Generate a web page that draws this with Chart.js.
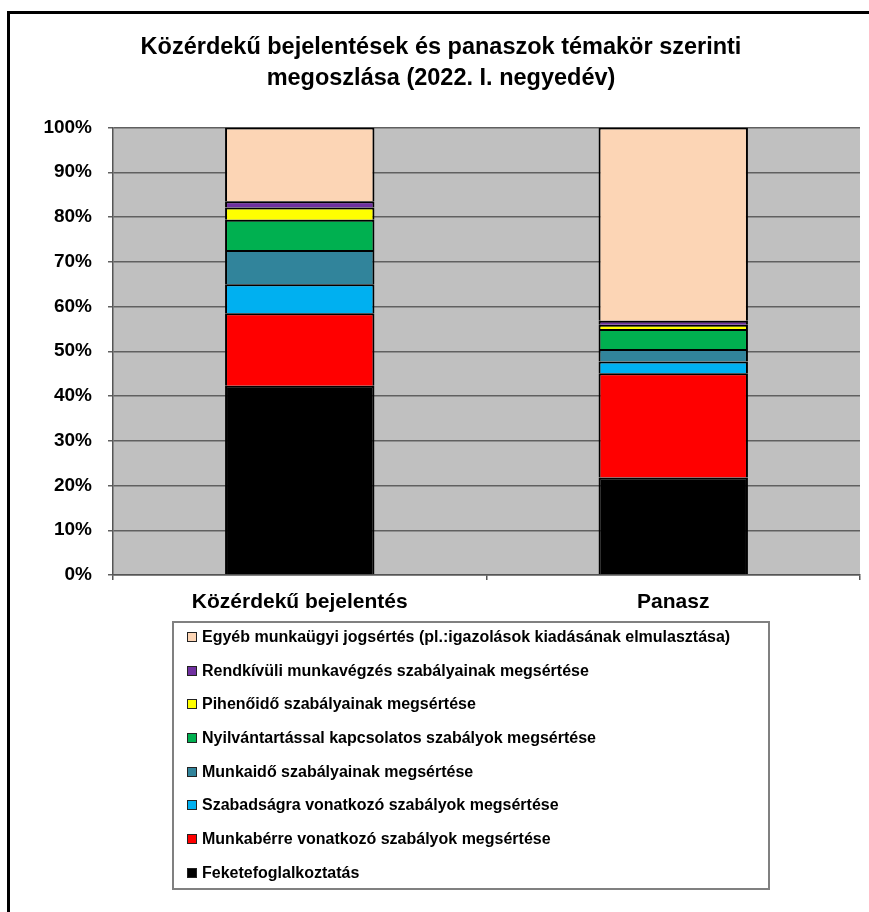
<!DOCTYPE html>
<html>
<head>
<meta charset="utf-8">
<script src="https://cdn.jsdelivr.net/npm/chart.js@4"></script>
<style>
    body { margin: 0; background: #fff; font-family: "Liberation Sans", Arial, sans-serif; }
    #wrap { position: relative; width: 869px; height: 912px; overflow: hidden; }
    #frame { position: absolute; left: 7px; top: 11px; width: 900px; height: 950px; border-left: 3px solid #000; border-top: 3px solid #000; }
    #chart { position: absolute; left: 0; top: 0; }
    #legendBox { position: absolute; left: 172px; top: 621px; width: 594px; height: 265px; border: 2px solid #808080; background: #fff; }
    #legend { position: absolute; left: 187px; top: 620px; margin: 0; padding: 0; list-style: none; }
    #legend li { height: 33.7px; line-height: 33.7px; font-size: 16px; font-weight: bold; color: #000; white-space: nowrap; }
    #legend span { display: inline-block; width: 8px; height: 8px; border: 1px solid #222; margin-right: 5px; vertical-align: 0px; }
</style>
</head>
<body>
<div id="wrap">
    <div id="frame"></div>
    <div id="legendBox"></div>
    <canvas id="chart" width="869" height="640"></canvas>
    <ul id="legend"></ul>
</div>
<script>
const categories = ['Közérdekű bejelentés', 'Panasz'];

const seriesNames = [
    'Feketefoglalkoztatás',
    'Munkabérre vonatkozó szabályok megsértése',
    'Szabadságra vonatkozó szabályok megsértése',
    'Munkaidő szabályainak megsértése',
    'Nyilvántartással kapcsolatos szabályok megsértése',
    'Pihenőidő szabályainak megsértése',
    'Rendkívüli munkavégzés szabályainak megsértése',
    'Egyéb munkaügyi jogsértés (pl.:igazolások kiadásának elmulasztása)'
];

const seriesColors = ['#000000', '#FF0000', '#00B0F0', '#31849B', '#00B050', '#FFFF00', '#7030A0', '#FCD5B5'];

// percent share per series, [bejelentés, panasz]
const feketefoglalkoztatas = [42.3, 21.8];
const munkaber = [16.2, 23.3];
const szabadsag = [6.5, 2.6];
const munkaido = [7.6, 2.8];
const nyilvantartas = [6.8, 4.5];
const pihenoido = [2.7, 0.9];
const rendkivuli = [1.4, 0.9];
const egyeb = [16.5, 43.2];

const seriesValues = [feketefoglalkoztatas, munkaber, szabadsag, munkaido, nyilvantartas, pihenoido, rendkivuli, egyeb];

const titleLines = ['Közérdekű bejelentések és panaszok témakör szerinti', 'megoszlása (2022. I. negyedév)'];
const yTicks = [0, 10, 20, 30, 40, 50, 60, 70, 80, 90, 100];

const plotBg = {
    id: 'plotBg',
    beforeDraw(chart) {
        const { ctx, chartArea: a } = chart;
        ctx.save();
        ctx.fillStyle = '#C0C0C0';
        ctx.fillRect(a.left, a.top, a.right - a.left, a.bottom - a.top);
        ctx.restore();
    }
};

const datasets = seriesNames.map((name, i) => ({
    label: name,
    data: seriesValues[i],
    backgroundColor: seriesColors[i],
    borderColor: '#000',
    borderWidth: 2,
    barPercentage: 0.4,
    categoryPercentage: 1
}));

new Chart(document.getElementById('chart').getContext('2d'), {
    type: 'bar',
    data: { labels: categories, datasets: datasets },
    plugins: [plotBg],
    options: {
        responsive: false,
        animation: false,
        layout: { padding: { left: 22, right: 9, top: 0, bottom: 25 } },
        plugins: {
            legend: { display: false },
            tooltip: { enabled: false },
            title: {
                display: true,
                text: titleLines,
                color: '#000',
                font: { family: 'Liberation Sans', size: 23.5, weight: 'bold', lineHeight: 1.33 },
                padding: { top: 32, bottom: 33 }
            }
        },
        scales: {
            x: {
                stacked: true,
                afterFit(scale) { scale.height = 40; },
                grid: { display: true, drawOnChartArea: false, offset: true, tickLength: 5, color: '#555', lineWidth: 1.5 },
                border: { color: '#555', width: 1.5 },
                ticks: { color: '#000', padding: 10, font: { family: 'Liberation Sans', size: 21, weight: 'bold' } }
            },
            y: {
                stacked: true,
                min: 0,
                max: 100,
                afterFit(scale) { scale.width = 91; },
                afterBuildTicks(scale) { scale.ticks = yTicks.map(v => ({ value: v })); },
                grid: { color: '#606060', lineWidth: 1.5, tickLength: 5 },
                border: { color: '#555', width: 1.5 },
                ticks: {
                    color: '#000',
                    padding: 16,
                    font: { family: 'Liberation Sans', size: 19, weight: 'bold' },
                    callback: v => v + '%'
                }
            }
        }
    }
});

// legend lists top segment first, like the original
const legend = document.getElementById('legend');
legend.innerHTML = seriesNames.map((name, i) => ({ name, color: seriesColors[i] }))
    .reverse()
    .map(item => `<li><span style="background:${item.color}"></span>${item.name}</li>`)
    .join('');
</script>
</body>
</html>
